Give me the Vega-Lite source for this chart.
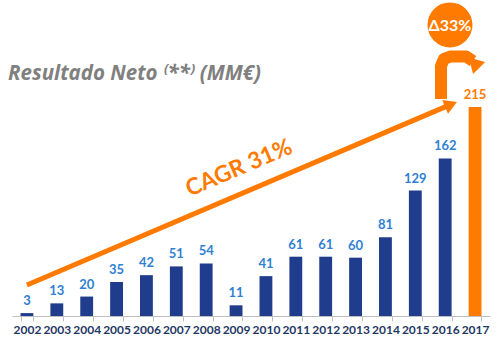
{
  "$schema": "https://vega.github.io/schema/vega-lite/v6.json",
  "width": 478,
  "height": 316,
  "autosize": "none",
  "padding": {"left": 12, "top": 0, "right": 13, "bottom": 24},
  "background": "white",
  "config": {"view": {"stroke": null}, "font": "Lato"},
  "datasets": {
    "bars": [
      {"year": "2002", "value": 3},
      {"year": "2003", "value": 13},
      {"year": "2004", "value": 20},
      {"year": "2005", "value": 35},
      {"year": "2006", "value": 42},
      {"year": "2007", "value": 51},
      {"year": "2008", "value": 54},
      {"year": "2009", "value": 11},
      {"year": "2010", "value": 41},
      {"year": "2011", "value": 61},
      {"year": "2012", "value": 61},
      {"year": "2013", "value": 60},
      {"year": "2014", "value": 81},
      {"year": "2015", "value": 129},
      {"year": "2016", "value": 162},
      {"year": "2017", "value": 215}
    ],
    "cagrLine": [
      {"x": 2002.0, "value": 31.9},
      {"x": 2016.117, "value": 216.6}
    ],
    "cagrHead": [{"x": 2016.195, "value": 217.6}],
    "cagrLabel": [{"x": 2009.1, "value": 152, "label": "CAGR 31%"}],
    "deltaCurve": [
      {"x": 2015.86, "value": 223.3},
      {"x": 2015.86, "value": 257.2},
      {"x": 2015.96, "value": 264.4},
      {"x": 2016.19, "value": 267},
      {"x": 2016.70, "value": 267},
      {"x": 2016.93, "value": 262.3}
    ],
    "deltaHead": [{"x": 2016.998, "value": 256.2}],
    "deltaCircle": [{"x": 2016.16, "value": 299.4, "label": "Δ33%"}],
    "title": [{"x": 2001.37, "value": 249, "label": "Resultado Neto ⁽**⁾ (MM€)"}]
  },
  "layer": [
    {
      "data": {"name": "bars"},
      "encoding": {
        "x": {
          "field": "year",
          "type": "ordinal",
          "scale": {"paddingInner": 0.57, "paddingOuter": 0.285},
          "axis": {
            "title": null,
            "labelAngle": 0,
            "labelFont": "Lato",
            "labelFontWeight": "bold",
            "labelFontSize": 12,
            "labelColor": "#1F3864",
            "labelPadding": 3,
            "domainColor": "#BFBFBF",
            "tickColor": "#BFBFBF",
            "tickSize": 5,
            "tickBand": "extent"
          }
        },
        "y": {
          "field": "value",
          "type": "quantitative",
          "scale": {"domain": [0, 325], "nice": false},
          "axis": null
        }
      },
      "layer": [
        {
          "mark": {"type": "bar"},
          "encoding": {
            "color": {
              "condition": {"test": "datum.year === '2017'", "value": "#FF7A00"},
              "value": "#1F3D8C"
            }
          }
        },
        {
          "mark": {"type": "text", "baseline": "bottom", "dy": -5, "fontSize": 13, "fontWeight": "bold", "font": "Lato"},
          "encoding": {
            "text": {"field": "value", "type": "quantitative"},
            "color": {
              "condition": {"test": "datum.year === '2017'", "value": "#FF7A00"},
              "value": "#2F7FD3"
            }
          }
        }
      ]
    },
    {
      "encoding": {
        "x": {
          "field": "x",
          "type": "quantitative",
          "scale": {"domain": [2001.5, 2017.5], "nice": false, "zero": false},
          "axis": null
        },
        "y": {
          "field": "value",
          "type": "quantitative",
          "scale": {"domain": [0, 325], "nice": false},
          "axis": null
        }
      },
      "layer": [
        {
          "data": {"name": "cagrLine"},
          "mark": {"type": "line", "color": "#FF7A00", "strokeWidth": 5, "strokeCap": "butt"},
          "encoding": {}
        },
        {
          "data": {"name": "cagrHead"},
          "mark": {"type": "point", "shape": "triangle-up", "angle": 67, "size": 220, "filled": true, "opacity": 1, "color": "#FF7A00"}
        },
        {
          "data": {"name": "cagrLabel"},
          "mark": {"type": "text", "angle": -23, "fontSize": 23, "fontWeight": "bold", "font": "Lato", "color": "#FF7A00", "align": "center", "baseline": "middle"},
          "encoding": {"text": {"field": "label"}}
        },
        {
          "data": {"name": "deltaCurve"},
          "mark": {"type": "line", "color": "#FF7A00", "strokeWidth": 12, "strokeCap": "butt", "strokeJoin": "round"},
          "encoding": {"order": {"value": null}}
        },
        {
          "data": {"name": "deltaHead"},
          "mark": {"type": "point", "shape": "triangle-down", "angle": 15, "size": 289, "filled": true, "opacity": 1, "color": "#FF7A00"}
        },
        {
          "data": {"name": "deltaCircle"},
          "layer": [
            {
              "mark": {"type": "point", "shape": "circle", "size": 2025, "filled": true, "opacity": 1, "color": "#FF7A00"}
            },
            {
              "mark": {"type": "text", "fontSize": 16, "fontWeight": "bold", "font": "Lato", "color": "white", "align": "center", "baseline": "middle", "dy": 1},
              "encoding": {"text": {"field": "label"}}
            }
          ]
        },
        {
          "data": {"name": "title"},
          "mark": {"type": "text", "fontSize": 20.5, "fontWeight": "bold", "fontStyle": "italic", "font": "Open Sans", "color": "#808080", "align": "left", "baseline": "middle"},
          "encoding": {"text": {"field": "label"}}
        }
      ]
    }
  ],
  "resolve": {"scale": {"x": "independent"}}
}
